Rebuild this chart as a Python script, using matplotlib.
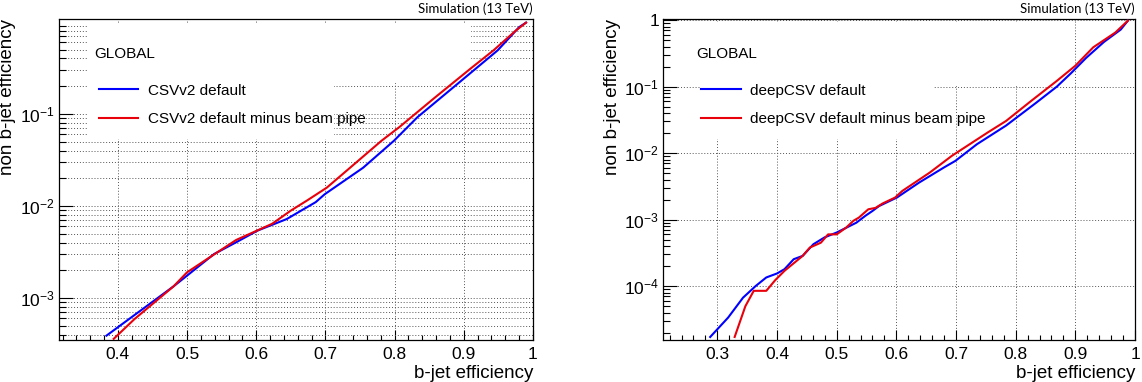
import numpy as np
import matplotlib.pyplot as plt
from matplotlib.ticker import FixedLocator, FixedFormatter, LogLocator, NullFormatter, MultipleLocator
from matplotlib.patches import Rectangle
from matplotlib.lines import Line2D

plt.rcParams['font.family'] = ['Liberation Sans', 'DejaVu Sans']
plt.rcParams['mathtext.fontset'] = 'custom'
plt.rcParams['mathtext.rm'] = 'Liberation Sans'
plt.rcParams['mathtext.default'] = 'regular'

# left panel: CSVv2
csv_def_x = [0.3835, 0.4806, 0.5, 0.539, 0.571, 0.602, 0.644, 0.686, 0.699, 0.7545, 0.799, 0.833, 0.891, 0.949, 0.98, 0.99]
csv_def_y = [3.9e-4, 1.34e-3, 1.75e-3, 3.0e-3, 4.03e-3, 5.4e-3, 7.2e-3, 1.1e-2, 1.34e-2, 2.6e-2, 5.1e-2, 9.2e-2, 0.212, 0.49, 0.875, 0.98]
csv_nobp_x = [0.394, 0.424, 0.4806, 0.5, 0.529, 0.571, 0.623, 0.65, 0.673, 0.702, 0.733, 0.781, 0.807, 0.859, 0.912, 0.943, 0.975, 0.99]
csv_nobp_y = [3.6e-4, 5.9e-4, 1.34e-3, 1.9e-3, 2.65e-3, 4.27e-3, 6.4e-3, 8.9e-3, 1.14e-2, 1.58e-2, 2.5e-2, 5.1e-2, 7.2e-2, 0.152, 0.32, 0.49, 0.80, 0.98]

# right panel: deepCSV
deep_def_x = [0.288, 0.318, 0.343, 0.364, 0.382, 0.4, 0.4126, 0.428, 0.443, 0.461, 0.4796, 0.5, 0.533, 0.548, 0.56, 0.571,
              0.601, 0.638, 0.68, 0.699, 0.735, 0.784, 0.833, 0.869, 0.893, 0.918, 0.948, 0.976, 0.988]
deep_def_y = [1.72e-5, 3.36e-5, 6.7e-5, 1.0e-4, 1.35e-4, 1.55e-4, 1.8e-4, 2.54e-4, 2.85e-4, 4.27e-4, 5.4e-4, 6.4e-4, 9.0e-4, 1.14e-3, 1.35e-3, 1.6e-3,
              2.15e-3, 3.6e-3, 6.1e-3, 7.65e-3, 1.36e-2, 2.6e-2, 5.6e-2, 0.1, 0.16, 0.27, 0.47, 0.72, 0.98]
deep_nobp_x = [0.329, 0.347, 0.361, 0.382, 0.397, 0.4126, 0.443, 0.455, 0.4735, 0.4856, 0.5, 0.516, 0.528, 0.537, 0.553, 0.565,
               0.577, 0.598, 0.61, 0.656, 0.693, 0.753, 0.784, 0.826, 0.869, 0.9, 0.93, 0.967, 0.988]
deep_nobp_y = [1.72e-5, 5.0e-5, 8.5e-5, 8.5e-5, 1.23e-4, 1.7e-4, 2.85e-4, 3.8e-4, 4.5e-4, 6.0e-4, 6.0e-4, 7.6e-4, 9.6e-4, 1.07e-3, 1.43e-3, 1.5e-3,
               1.75e-3, 2.15e-3, 2.7e-3, 5.1e-3, 9.1e-3, 2.04e-2, 3.05e-2, 6.1e-2, 0.122, 0.206, 0.39, 0.65, 0.98]

left_labels = ['CSVv2 default', 'CSVv2 default minus beam pipe']
right_labels = ['deepCSV default', 'deepCSV default minus beam pipe']
left_xticks = [0.4, 0.5, 0.6, 0.7, 0.8, 0.9, 1.0]
left_xlabels = ['0.4', '0.5', '0.6', '0.7', '0.8', '0.9', '1']
right_xticks = [0.3, 0.4, 0.5, 0.6, 0.7, 0.8, 0.9, 1.0]
right_xlabels = ['0.3', '0.4', '0.5', '0.6', '0.7', '0.8', '0.9', '1']
left_yticks = [1e-3, 1e-2, 1e-1]
left_ylabels = ['$10^{-3}$', '$10^{-2}$', '$10^{-1}$']
right_yticks = [1e-4, 1e-3, 1e-2, 1e-1, 1]
right_ylabels = ['$10^{-4}$', '$10^{-3}$', '$10^{-2}$', '$10^{-1}$', '1']

BLUE = '#0000ff'
RED = '#e8000b'

fig = plt.figure(figsize=(11.42, 3.82), dpi=100)
axL = fig.add_axes([0.0517, 0.110, 0.415, 0.840])
axR = fig.add_axes([0.5806, 0.110, 0.4133, 0.840])


def panel(ax, xd, yd, xb, yb, labels, xlim, ylim, xt, xtl, yt, ytl, minor_grid, boxes, leg_x):
    ax.set_yscale('log')
    ax.plot(xd, yd, color=BLUE, lw=1.5, zorder=3)
    ax.plot(xb, yb, color=RED, lw=1.5, zorder=3)
    ax.set_xlim(*xlim)
    ax.set_ylim(*ylim)
    ax.xaxis.set_major_locator(FixedLocator(xt))
    ax.xaxis.set_major_formatter(FixedFormatter(xtl))
    ax.xaxis.set_minor_locator(MultipleLocator(0.02))
    ax.yaxis.set_major_locator(FixedLocator(yt))
    ax.yaxis.set_major_formatter(FixedFormatter(ytl))
    ax.yaxis.set_minor_locator(LogLocator(base=10, subs=np.arange(2, 10)))
    ax.yaxis.set_minor_formatter(NullFormatter())
    ax.tick_params(which='both', direction='in', top=False, right=False, labelsize=12.5)
    ax.tick_params(axis='y', which='major', length=10, width=0.8, pad=3)
    ax.tick_params(axis='y', which='minor', length=5, width=0.8)
    ax.tick_params(axis='x', which='major', length=7, width=0.8, pad=5)
    ax.tick_params(axis='x', which='minor', length=3.5, width=0.8)
    for s in ax.spines.values():
        s.set_linewidth(0.9)
    ax.set_axisbelow(True)
    gkw = dict(color='#555555', linestyle=(0, (1, 2)), linewidth=0.7)
    ax.grid(True, which='major', axis='both', **gkw)
    if minor_grid:
        ax.grid(True, which='minor', axis='y', **gkw)
    # white panes of the legend / label boxes hide the grid behind them
    for (x0, y0, x1, y1) in boxes:
        ax.add_patch(Rectangle((x0, y0), x1 - x0, y1 - y0, transform=ax.transAxes,
                               facecolor='white', edgecolor='none', zorder=1))
    ax.set_xlabel('b-jet efficiency', loc='right', fontsize=13.5, labelpad=2)
    ax.set_ylabel('non b-jet efficiency', loc='top', fontsize=13.5)
    ax.yaxis.set_label_coords(-0.09, 1.0)
    ax.text(1.0, 1.012, 'Simulation (13 TeV)', transform=ax.transAxes, ha='right', va='bottom',
            fontsize=9.5, family=['Lato', 'DejaVu Sans'])
    ax.text(leg_x - 0.01, 0.891, 'GLOBAL', transform=ax.transAxes, ha='left', va='center', fontsize=11)
    handles = [Line2D([], [], color=BLUE, lw=1.5), Line2D([], [], color=RED, lw=1.5)]
    ax.legend(handles, labels, loc='center left', bbox_to_anchor=(leg_x, 0.7325), frameon=False,
              borderpad=0, borderaxespad=0, handlelength=2.6, handletextpad=0.6,
              labelspacing=0.95, fontsize=11)


panel(axL, csv_def_x, csv_def_y, csv_nobp_x, csv_nobp_y, left_labels,
      (0.315, 1.0), (3.5e-4, 1.07), left_xticks, left_xlabels, left_yticks, left_ylabels,
      True, [(0.061, 0.802, 0.87, 0.985), (0.061, 0.626, 0.58, 0.805)], 0.0835)
panel(axR, deep_def_x, deep_def_y, deep_nobp_x, deep_nobp_y, right_labels,
      (0.209, 1.0), (1.55e-5, 1.035), right_xticks, right_xlabels, right_yticks, right_ylabels,
      False, [(0.081, 0.792, 0.87, 0.99), (0.081, 0.626, 0.574, 0.795)], 0.081)

fig.savefig('out.png', dpi=100)
